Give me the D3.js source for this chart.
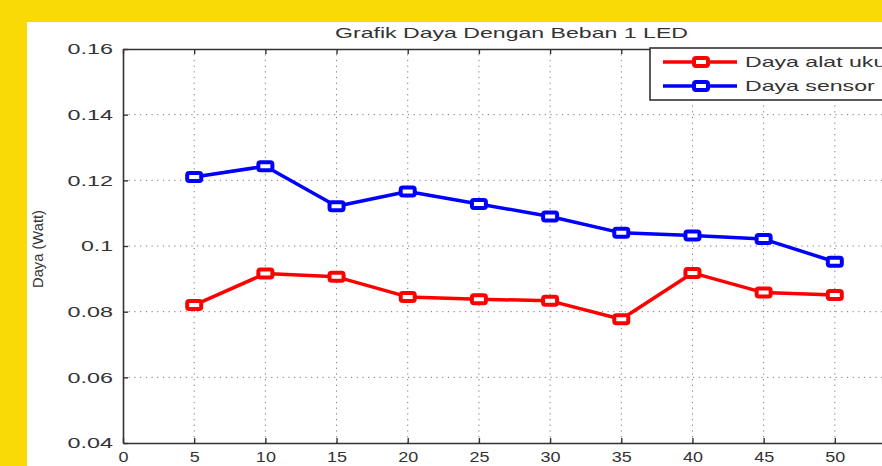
<!DOCTYPE html>
<html>
<head>
<meta charset="utf-8">
<script src="https://cdn.jsdelivr.net/npm/d3@7"></script>
<style>
	html, body { margin: 0; padding: 0; background: #f9da07; }
	#chart { position: absolute; left: 0; top: 0; }
	text { font-family: "Liberation Sans", Arial, sans-serif; fill: #333; }
</style>
</head>
<body>
<div id="chart"></div>
<script>
// values
const waktu        = [5, 10, 15, 20, 25, 30, 35, 40, 45, 50];
const dayaAlatUkur = [0.0820, 0.0916, 0.0906, 0.0845, 0.0838, 0.0833, 0.0777, 0.0918, 0.0858, 0.0851];
const dayaSensor   = [0.1210, 0.1243, 0.1121, 0.1166, 0.1128, 0.1090, 0.1040, 0.1032, 0.1021, 0.0952];
const xTicks = [0, 5, 10, 15, 20, 25, 30, 35, 40, 45, 50];
const yTicks = [0.04, 0.06, 0.08, 0.1, 0.12, 0.14, 0.16];

const series = [
	{ name: "Daya alat ukur", color: "#ff0000", values: dayaAlatUkur },
	{ name: "Daya sensor",    color: "#0000ff", values: dayaSensor }
];

const width = 882, height = 466;

const svg = d3.select("#chart").append("svg")
	.attr("width", width)
	.attr("height", height);

// the source picture is stretched sideways, so widen the glyphs
function stretch(sel, factor, extra) {
	sel.each(function() {
		let len = this.getComputedTextLength();
		let n = this.textContent.length;
		d3.select(this)
			.attr("textLength", len * factor + (n - 1) * (extra || 0))
			.attr("lengthAdjust", "spacingAndGlyphs");
	});
}

// white figure area inside the yellow frame
svg.append("rect")
	.attr("x", 27).attr("y", 22)
	.attr("width", width - 27).attr("height", height - 22)
	.attr("fill", "#fff");

const x = d3.scaleLinear().domain([0, 55]).range([123, 906]);
const y = d3.scaleLinear().domain([0.04, 0.16]).range([443, 49]);

// dotted grid
const grid = svg.append("g").attr("stroke", "#777").attr("stroke-width", 1)
	.attr("stroke-dasharray", "1.2,4.5");
grid.selectAll(".gx").data(xTicks.slice(1))
	.enter().append("line")
	.attr("x1", d => x(d)).attr("x2", d => x(d))
	.attr("y1", y(0.04)).attr("y2", y(0.16));
grid.selectAll(".gy").data(yTicks.slice(1, -1))
	.enter().append("line")
	.attr("x1", x(0)).attr("x2", x(55))
	.attr("y1", d => y(d)).attr("y2", d => y(d));

// axes, matlab style box with inward ticks
const axisStyle = g => {
	g.select(".domain").attr("stroke", "#333").attr("stroke-width", 1.6);
	g.selectAll(".tick line").attr("stroke", "#333").attr("stroke-width", 1.4);
	g.selectAll(".tick text")
		.attr("fill", "#333")
		.style("font-family", "'Liberation Sans', Arial, sans-serif")
		.style("font-size", "15px");
};

svg.append("g")
	.attr("transform", `translate(0,${y(0.04)})`)
	.call(d3.axisBottom(x).tickValues(xTicks).tickFormat(d3.format("d")).tickSizeInner(-5).tickSizeOuter(0).tickPadding(8))
	.call(axisStyle)
	.call(g => stretch(g.selectAll(".tick text"), 1.2, 0));

svg.append("g")
	.attr("transform", `translate(0,${y(0.16)})`)
	.call(d3.axisTop(x).tickValues(xTicks).tickFormat("").tickSizeInner(-5).tickSizeOuter(0))
	.call(axisStyle);

svg.append("g")
	.attr("transform", `translate(${x(0)},0)`)
	.call(d3.axisLeft(y).tickValues(yTicks).tickFormat(d => d === 0.1 ? "0.1" : d3.format(".2f")(d)).tickSizeInner(-5).tickSizeOuter(0).tickPadding(10))
	.call(axisStyle)
	.call(g => stretch(g.selectAll(".tick text"), 1.3, 2.5));

// series lines and square markers
const line = d3.line()
	.x((d, i) => x(waktu[i]))
	.y(d => y(d));

series.forEach(s => {
	svg.append("path")
		.datum(s.values)
		.attr("fill", "none")
		.attr("stroke", s.color)
		.attr("stroke-width", 3.5)
		.attr("stroke-linejoin", "round")
		.attr("d", line);

	svg.selectAll(null)
		.data(s.values)
		.enter().append("rect")
		.attr("x", (d, i) => x(waktu[i]) - 7)
		.attr("y", d => y(d) - 4)
		.attr("width", 14).attr("height", 8)
		.attr("rx", 2)
		.attr("fill", "#fff")
		.attr("stroke", s.color)
		.attr("stroke-width", 4);
});

// title and y label
svg.append("text")
	.attr("x", 335).attr("y", 38)
	.attr("textLength", 353)
	.attr("lengthAdjust", "spacingAndGlyphs")
	.style("font-size", "15px")
	.text("Grafik Daya Dengan Beban 1 LED");

svg.append("text")
	.attr("transform", "translate(43,249) rotate(-90)")
	.attr("text-anchor", "middle")
	.attr("textLength", 78)
	.attr("lengthAdjust", "spacingAndGlyphs")
	.style("font-size", "14px")
	.text("Daya (Watt)");

// legend
const legend = svg.append("g");
legend.append("rect")
	.attr("x", 650).attr("y", 48)
	.attr("width", 260).attr("height", 52)
	.attr("fill", "#fff")
	.attr("stroke", "#333")
	.attr("stroke-width", 1.6);

series.forEach((s, i) => {
	let ly = 62 + i * 24;
	legend.append("line")
		.attr("x1", 663).attr("x2", 737)
		.attr("y1", ly).attr("y2", ly)
		.attr("stroke", s.color).attr("stroke-width", 3.5);
	legend.append("rect")
		.attr("x", 694).attr("y", ly - 4)
		.attr("width", 14).attr("height", 8)
		.attr("rx", 2)
		.attr("fill", "#fff")
		.attr("stroke", s.color).attr("stroke-width", 4);
	legend.append("text")
		.attr("x", 745).attr("y", ly + 5)
		.style("font-size", "15px")
		.text(s.name)
		.call(t => stretch(t, 1.54, 0));
});
</script>
</body>
</html>
